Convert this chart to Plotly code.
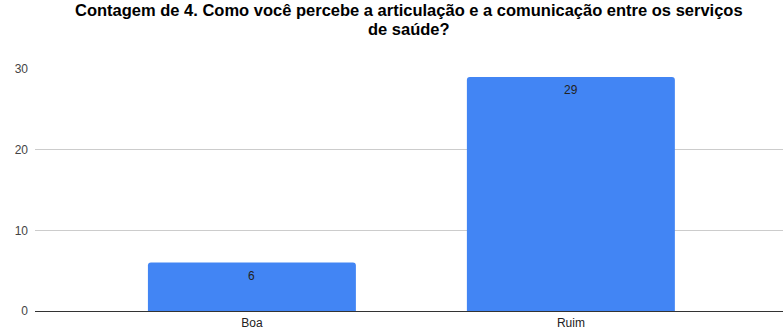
import plotly.graph_objects as go

categories = ["Boa", "Ruim"]
counts = [6, 29]
y_ticks = [0, 10, 20, 30]

title_lines = [
    "Contagem de 4. Como você percebe a articulação e a comunicação entre os serviços",
    "de saúde?",
]

FONT = "Liberation Sans, Arial, sans-serif"
PLOT_TOP = 69
PLOT_BOTTOM = 311
plot_h = PLOT_BOTTOM - PLOT_TOP

fig = go.Figure(
    go.Bar(
        x=categories,
        y=counts,
        width=0.652,
        marker=dict(color="#4285F4", cornerradius=3, line=dict(width=0)),
        hoverinfo="skip",
    )
)

# value labels just inside the top of each bar
for cat, val in zip(categories, counts):
    fig.add_annotation(
        x=cat, y=val, xref="x", yref="y",
        text=str(val), showarrow=False,
        yanchor="top", yshift=-4,
        font=dict(family=FONT, size=12, color="#222222"),
    )

# two-line bold title, each line placed at its own centre height
for line, centre_px in zip(title_lines, [10, 29]):
    fig.add_annotation(
        text=f"<b>{line}</b>",
        xref="paper", yref="paper",
        x=0.5, xanchor="center",
        y=(PLOT_BOTTOM - centre_px) / plot_h, yanchor="middle",
        showarrow=False,
        font=dict(family=FONT, size=16.5, color="#000000"),
    )

fig.update_layout(
    width=784,
    height=331,
    margin=dict(l=35, r=1, t=PLOT_TOP, b=331 - PLOT_BOTTOM),
    paper_bgcolor="white",
    plot_bgcolor="white",
    showlegend=False,
    font=dict(family=FONT, size=12, color="#444444"),
    xaxis=dict(
        range=[-0.68, 1.665],
        showgrid=False,
        showline=False,
        zeroline=False,
        ticks="",
        ticklabelstandoff=3,
        tickfont=dict(size=12, color="#222222"),
        fixedrange=True,
    ),
    yaxis=dict(
        range=[0, 30],
        tickvals=y_ticks,
        showgrid=True,
        gridcolor="#cccccc",
        gridwidth=1,
        zeroline=True,
        zerolinecolor="#333333",
        zerolinewidth=1,
        showline=False,
        ticks="",
        ticklabelstandoff=6,
        tickfont=dict(size=12, color="#444444"),
        fixedrange=True,
    ),
)

fig.write_html("out.html")
